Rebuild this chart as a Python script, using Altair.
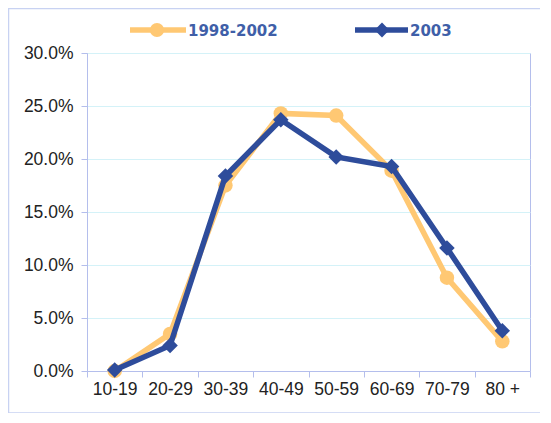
import altair as alt
import pandas as pd

categories = ["10-19", "20-29", "30-39", "40-49", "50-59", "60-69", "70-79", "80 +"]
series_a_name = "1998-2002"
series_b_name = "2003"
series_a = [0.000, 0.035, 0.175, 0.243, 0.241, 0.189, 0.088, 0.028]
series_b = [0.001, 0.024, 0.184, 0.237, 0.202, 0.193, 0.116, 0.038]
y_ticks = [0.0, 0.05, 0.10, 0.15, 0.20, 0.25, 0.30]

ORANGE = "#FFC873"
BLUE = "#2E4C9B"
BORDER = "#B4BEEC"
GRID = "#D4F2F8"

rows = []
for c, a, b in zip(categories, series_a, series_b):
    rows.append({"cat": c, "series": series_a_name, "val": a})
    rows.append({"cat": c, "series": series_b_name, "val": b})
df = pd.DataFrame(rows)

x_enc = alt.X("cat:N", sort=categories, title=None,
              scale=alt.Scale(paddingInner=0, paddingOuter=0),
              axis=alt.Axis(labelAngle=0, tickBand="extent", tickSize=6,
                            tickColor=BORDER, domainColor=BORDER, grid=False,
                            labelFont="Liberation Sans", labelFontSize=17.5,
                            labelColor="#222222", labelPadding=3))
y_enc = alt.Y("val:Q", title=None,
              scale=alt.Scale(domain=[0, 0.30], nice=False),
              axis=alt.Axis(values=y_ticks, format=".1%", tickSize=6,
                            tickColor=BORDER, domainColor=BORDER,
                            grid=True, gridColor=GRID, gridWidth=1,
                            labelFont="Liberation Sans", labelFontSize=17.5,
                            labelColor="#222222", labelPadding=8))

base = alt.Chart(df)


def series_layers(name, color, shape, size):
    sub = base.transform_filter(alt.datum.series == name)
    line = sub.mark_line(color=color, strokeWidth=5.5).encode(x=x_enc, y=y_enc)
    pts = sub.mark_point(color=color, filled=True, opacity=1, shape=shape,
                         size=size).encode(x=x_enc, y=y_enc)
    return [line, pts]


one = pd.DataFrame({"k": [0]})
frame = alt.Chart(one).mark_rect(fill=None, stroke="#C8D2F2", strokeWidth=1.5).encode(
    x=alt.value(-78.5), x2=alt.value(470), y=alt.value(-44.5), y2=alt.value(360))

leg_a_line = alt.Chart(one).mark_rule(color=ORANGE, strokeWidth=5.5).encode(
    x=alt.value(43), x2=alt.value(99), y=alt.value(-23))
leg_a_pt = alt.Chart(one).mark_point(color=ORANGE, filled=True, opacity=1,
                                     shape="circle", size=200).encode(
    x=alt.value(70), y=alt.value(-23))
leg_a_txt = alt.Chart(pd.DataFrame({"t": [series_a_name]})).mark_text(
    align="left", baseline="middle", font="DejaVu Sans", fontWeight="bold",
    fontSize=15, color="#3F5FA8").encode(x=alt.value(101), y=alt.value(-22), text="t:N")

leg_b_line = alt.Chart(one).mark_rule(color=BLUE, strokeWidth=5.5).encode(
    x=alt.value(268), x2=alt.value(321), y=alt.value(-23))
leg_b_pt = alt.Chart(one).mark_point(color=BLUE, filled=True, opacity=1,
                                     shape="diamond", size=220).encode(
    x=alt.value(295), y=alt.value(-23))
leg_b_txt = alt.Chart(pd.DataFrame({"t": [series_b_name]})).mark_text(
    align="left", baseline="middle", font="DejaVu Sans", fontWeight="bold",
    fontSize=15, color="#3F5FA8").encode(x=alt.value(323), y=alt.value(-22), text="t:N")

layers = ([frame]
          + series_layers(series_a_name, ORANGE, "circle", 210)
          + series_layers(series_b_name, BLUE, "diamond", 240)
          + [leg_a_line, leg_a_pt, leg_a_txt, leg_b_line, leg_b_pt, leg_b_txt])

chart = alt.layer(*layers).properties(
    width=443, height=318,
    autosize=alt.AutoSizeParams(type="none"),
    padding={"left": 79, "top": 45, "right": 10, "bottom": 42},
    background="white",
).configure_view(stroke=BORDER, strokeWidth=1)

chart.save("out.html", embed_options={"renderer": "svg", "actions": False})
